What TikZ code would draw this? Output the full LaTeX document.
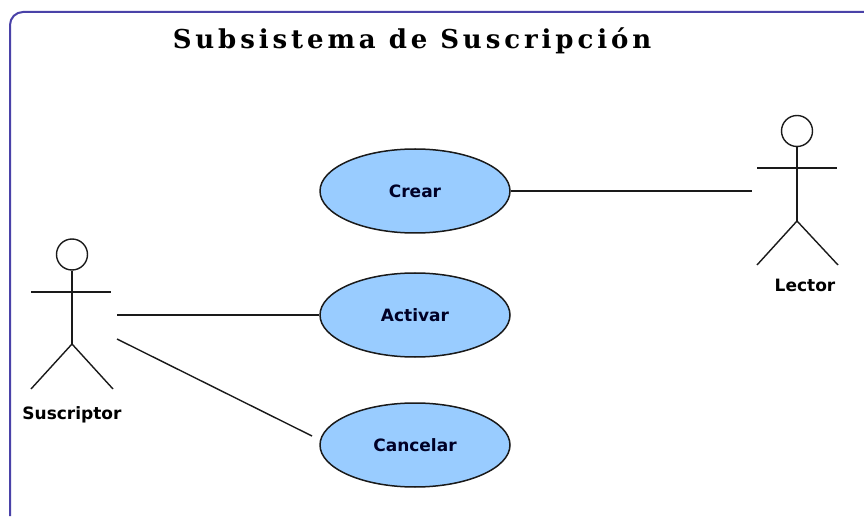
\documentclass[tikz,border=0pt]{standalone}
\usepackage{fontspec}
\setmainfont{Liberation Serif}
\newfontfamily\labelfont{DejaVu Sans}
\newfontfamily\titlefont[LetterSpace=15]{DejaVu Serif}
\usetikzlibrary{shapes.geometric}
\definecolor{framecol}{HTML}{4A42A8}
\definecolor{ucfill}{HTML}{99CCFF}
\definecolor{inkcol}{HTML}{1A1A1A}
\tikzset{
  x=1pt,y=-1pt,
  usecase/.style={ellipse,draw=inkcol,fill=ucfill,line width=1.5pt,minimum width=190pt,minimum height=84pt,inner sep=0pt,font=\labelfont\bfseries\fontsize{17}{18}\selectfont,text=black!85!blue},
  fig/.style={draw=inkcol,line width=1.4pt},
  headshape/.style={circle,draw=inkcol,line width=1.4pt,minimum size=31pt,inner sep=0pt},
  assoc/.style={draw=inkcol,line width=1.4pt},
  actorlabel/.style={font=\labelfont\bfseries\fontsize{17}{18}\selectfont,text=black,inner sep=0pt},
  frameline/.style={draw=framecol,line width=2pt,rounded corners=13pt}
}
\begin{document}
\begin{tikzpicture}
\useasboundingbox (0,0) rectangle (864,518);
\fill[white] (0,0) rectangle (864,518);
\draw[frameline] (10,516) -- (10,12) -- (864,12);
\node[inner sep=0pt,font=\titlefont\bfseries\fontsize{26}{30}\selectfont] (title) at (412,41) {Subsistema de Suscripción};
% use cases
\node[usecase] (crear) at (415,191) {Crear};
\node[usecase] (activar) at (415,315) {Activar};
\node[usecase] (cancelar) at (415,445) {Cancelar};
% actor Suscriptor
\node[headshape] (headS) at (72,254.5) {};
\coordinate (hipS) at (72,344);
\coordinate (armSl) at (31,292);
\coordinate (armSr) at (111,292);
\coordinate (legSl) at (31,389);
\coordinate (legSr) at (113,389);
\draw[fig] (headS.south) -- (hipS);
\draw[fig] (armSl) -- (armSr);
\draw[fig] (legSl) -- (hipS) -- (legSr);
\node[actorlabel] (suscriptor) at (72,415) {Suscriptor};
% actor Lector
\node[headshape] (headL) at (797,131) {};
\coordinate (hipL) at (797,221);
\coordinate (armLl) at (757,168);
\coordinate (armLr) at (837,168);
\coordinate (legLl) at (757,265);
\coordinate (legLr) at (838,265);
\draw[fig] (headL.south) -- (hipL);
\draw[fig] (armLl) -- (armLr);
\draw[fig] (legLl) -- (hipL) -- (legLr);
\node[actorlabel] (lector) at (805,285) {Lector};
% associations
\coordinate (endL) at (752,191);
\coordinate (startA) at (117,315);
\coordinate (startC) at (117,339);
\coordinate (endC) at (312,436);
\draw[assoc] (crear.east) -- (endL);
\draw[assoc] (startA) -- (activar.west);
\draw[assoc] (startC) -- (endC);
\end{tikzpicture}
\end{document}
